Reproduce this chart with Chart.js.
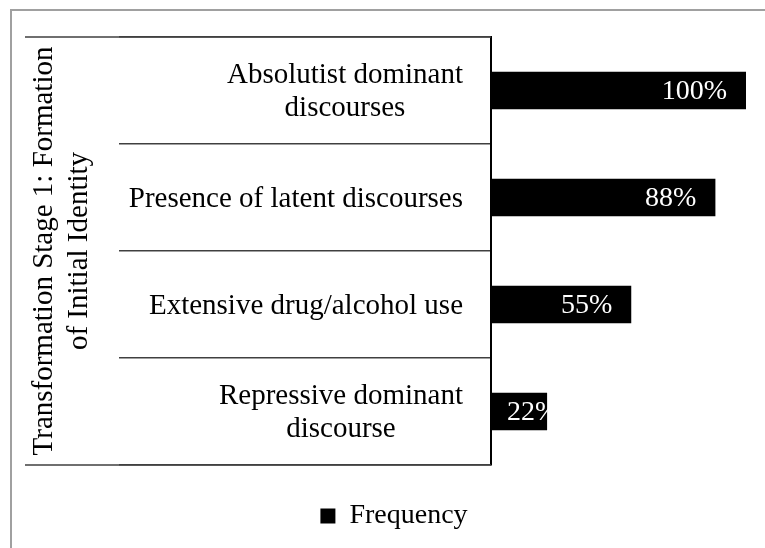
<!DOCTYPE html>
<html>
<head>
<meta charset="utf-8">
<script src="https://cdn.jsdelivr.net/npm/chart.js@4"></script>
<style>
  html, body { margin: 0; padding: 0; background: #fff; overflow: hidden; }
  canvas { display: block; }
</style>
</head>
<body>
<canvas id="stageChart" width="765" height="548"></canvas>
<script>
// Stage 1 categories (top to bottom) and their frequency in percent
const categories = [
    ['Absolutist dominant', 'discourses'],
    ['Presence of latent discourses'],
    ['Extensive drug/alcohol use'],
    ['Repressive dominant', 'discourse']
];
const frequency = [100, 88, 55, 22];
const stageTitle = ['Transformation Stage 1: Formation', 'of Initial Identity'];

const serif = '"Liberation Serif", "Times New Roman", serif';

// gray page frame
const framePlugin = {
    id: 'frame',
    beforeDraw(chart) {
        const c = chart.ctx;
        c.save();
        c.strokeStyle = '#a0a0a0';
        c.lineWidth = 2;
        c.strokeRect(11, 10, chart.width + 20, chart.height + 20);
        c.restore();
    }
};

// category labels: block right-aligned next to the axis, lines centred inside
const categoryLabels = {
    id: 'categoryLabels',
    afterDraw(chart) {
        const c = chart.ctx;
        const y = chart.scales.y;
        const right = chart.chartArea.left - 28;
        const lh = 33;
        c.save();
        c.font = '29px ' + serif;
        c.fillStyle = '#000';
        c.textAlign = 'center';
        c.textBaseline = 'middle';
        categories.forEach((lines, i) => {
            const w = Math.max(...lines.map(t => c.measureText(t).width));
            const cy = y.getPixelForTick(i) + 1.5;
            const y0 = cy - (lines.length - 1) * lh / 2;
            lines.forEach((t, j) => c.fillText(t, right - w / 2, y0 + j * lh));
        });
        // outer bracket lines of the stage group
        c.strokeStyle = '#404040';
        c.lineWidth = 1.5;
        c.beginPath();
        [chart.chartArea.top, chart.chartArea.bottom].forEach(py => {
            c.moveTo(25, py);
            c.lineTo(chart.chartArea.left, py);
        });
        c.stroke();
        c.restore();
    }
};

// percentage labels inside the bar ends (kept off the axis for short bars)
const valueLabels = {
    id: 'valueLabels',
    afterDatasetsDraw(chart) {
        const c = chart.ctx;
        const meta = chart.getDatasetMeta(0);
        c.save();
        c.font = '28px ' + serif;
        c.fillStyle = '#fff';
        c.textAlign = 'left';
        c.textBaseline = 'middle';
        meta.data.forEach((bar, i) => {
            const txt = frequency[i] + '%';
            const w = c.measureText(txt).width;
            const x = Math.max(bar.x - 19 - w, bar.base + 16);
            c.fillText(txt, x, bar.y + 1);
        });
        c.restore();
    }
};

const ctx = document.getElementById('stageChart').getContext('2d');
const stageChart = new Chart(ctx, {
    type: 'bar',
    data: {
        labels: categories,
        datasets: [{
            label: 'Frequency',
            data: frequency,
            backgroundColor: '#000',
            borderWidth: 0,
            categoryPercentage: 1,
            barPercentage: 0.35
        }]
    },
    options: {
        indexAxis: 'y',
        responsive: false,
        animation: false,
        devicePixelRatio: 1,
        layout: {
            padding: { top: 37, left: 42, right: 19, bottom: 8 }
        },
        scales: {
            x: {
                display: false,
                min: 0,
                max: 100
            },
            y: {
                afterFit(scale) { scale.width = 449; },
                grid: {
                    offset: true,
                    drawOnChartArea: false,
                    drawTicks: true,
                    tickLength: 372,
                    color: '#404040',
                    lineWidth: 1.5
                },
                border: { display: true, color: '#000', width: 2 },
                ticks: { display: false },
                title: {
                    display: true,
                    text: stageTitle,
                    color: '#000',
                    font: { family: serif, size: 29, lineHeight: 1.2 },
                    padding: { top: -15, bottom: 0 }
                }
            }
        },
        plugins: {
            legend: {
                display: true,
                position: 'bottom',
                labels: {
                    boxWidth: 15,
                    boxHeight: 15,
                    color: '#000',
                    padding: 37,
                    font: { family: serif, size: 28 }
                }
            },
            tooltip: { enabled: false }
        }
    },
    plugins: [framePlugin, categoryLabels, valueLabels]
});
</script>
</body>
</html>
